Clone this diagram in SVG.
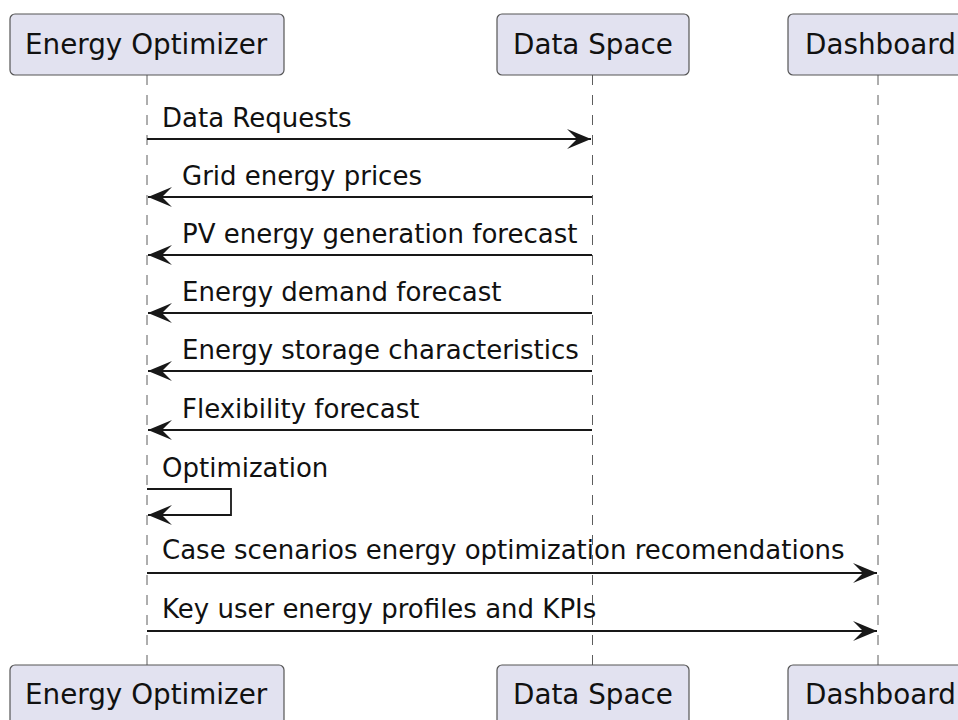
<svg xmlns="http://www.w3.org/2000/svg" width="958" height="720" viewBox="0 0 958 720">
<defs>
<style>
.box{fill:#E2E2F0;stroke:#555;stroke-width:1.2}
.pt{font-family:"DejaVu Sans",sans-serif;font-size:27.8px;fill:#111}
.mt{font-family:"DejaVu Sans",sans-serif;font-size:26px;fill:#111}
.life{stroke:#181818;stroke-width:1;stroke-dasharray:10,10;fill:none;opacity:0.7}
.msg{stroke:#181818;stroke-width:1.8;fill:none}
</style>
<marker id="arr" viewBox="0 0 24 20" refX="24" refY="10" markerWidth="24" markerHeight="20" markerUnits="userSpaceOnUse" orient="auto">
<polygon points="0,0 24,10 0,20 10,10" fill="#181818"/>
</marker>
</defs>
<rect width="958" height="720" fill="#fff"/>
<g id="lifelines">
<line class="life" x1="147" y1="75" x2="147" y2="665"/>
<line class="life" x1="592.5" y1="75" x2="592.5" y2="665"/>
<line class="life" x1="878" y1="75" x2="878" y2="665"/>
</g>
<g id="p-optimizer-top"><rect class="box" x="10" y="14" width="274" height="61" rx="5"/><text class="pt" x="25" y="54">Energy Optimizer</text></g>
<g id="p-dataspace-top"><rect class="box" x="497" y="14" width="192" height="61" rx="5"/><text class="pt" x="513" y="54">Data Space</text></g>
<g id="p-dashboard-top"><rect class="box" x="788" y="14" width="181" height="61" rx="5"/><text class="pt" x="805" y="54">Dashboard</text></g>
<g id="p-optimizer-bottom"><rect class="box" x="10" y="665" width="274" height="61" rx="5"/><text class="pt" x="25" y="704">Energy Optimizer</text></g>
<g id="p-dataspace-bottom"><rect class="box" x="497" y="665" width="192" height="61" rx="5"/><text class="pt" x="513" y="704">Data Space</text></g>
<g id="p-dashboard-bottom"><rect class="box" x="788" y="665" width="181" height="61" rx="5"/><text class="pt" x="805" y="704">Dashboard</text></g>
<g id="connectors">
<line class="msg" x1="147" y1="139" x2="591" y2="139" marker-end="url(#arr)"/>
<line class="msg" x1="592" y1="197" x2="148" y2="197" marker-end="url(#arr)"/>
<line class="msg" x1="592" y1="255" x2="148" y2="255" marker-end="url(#arr)"/>
<line class="msg" x1="592" y1="313" x2="148" y2="313" marker-end="url(#arr)"/>
<line class="msg" x1="592" y1="371" x2="148" y2="371" marker-end="url(#arr)"/>
<line class="msg" x1="592" y1="430" x2="148" y2="430" marker-end="url(#arr)"/>
<polyline class="msg" points="147,489 231,489 231,515 148,515" marker-end="url(#arr)"/>
<line class="msg" x1="147" y1="573" x2="877" y2="573" marker-end="url(#arr)"/>
<line class="msg" x1="147" y1="631" x2="877" y2="631" marker-end="url(#arr)"/>
</g>
<g id="labels">
<text class="mt" x="162" y="127">Data Requests</text>
<text class="mt" x="182" y="185">Grid energy prices</text>
<text class="mt" x="182" y="243">PV energy generation forecast</text>
<text class="mt" x="182" y="301">Energy demand forecast</text>
<text class="mt" x="182" y="359">Energy storage characteristics</text>
<text class="mt" x="182" y="418">Flexibility forecast</text>
<text class="mt" x="162" y="477">Optimization</text>
<text class="mt" x="162" y="559">Case scenarios energy optimization recomendations</text>
<text class="mt" x="162" y="618">Key user energy profiles and KPIs</text>
</g>
</svg>
